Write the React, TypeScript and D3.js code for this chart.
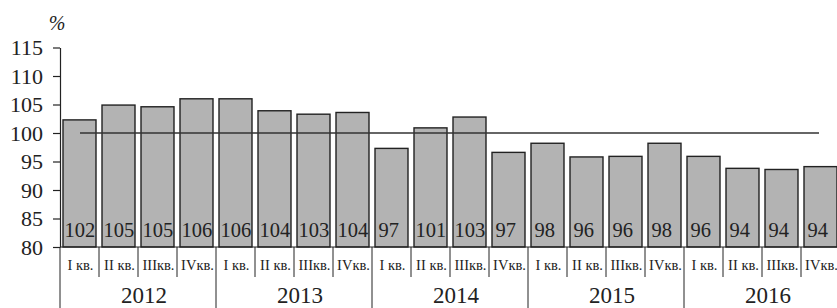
import { useEffect, useRef } from 'react';
import * as d3 from 'd3';

const years = ['2012', '2013', '2014', '2015', '2016'];
const quarterNames = ['I кв.', 'II кв.', 'IIIкв.', 'IVкв.'];
const values = [
  102.3, 104.9, 104.6, 106.0, 106.0, 103.9, 103.3, 103.6, 97.3, 100.9,
  102.8, 96.6, 98.2, 95.8, 95.9, 98.2, 95.9, 93.8, 93.6, 94.1,
];
const valueLabels = [
  '102', '105', '105', '106', '106', '104', '103', '104', '97', '101',
  '103', '97', '98', '96', '96', '98', '96', '94', '94', '94',
];
const yTicks = [80, 85, 90, 95, 100, 105, 110, 115];
const baseline = 100;

export default function App() {
  const svgRef = useRef<SVGSVGElement>(null);

  useEffect(() => {
    if (!svgRef.current) return;
    const svg = d3.select(svgRef.current);
    svg.selectAll('*').remove();

    const font = "'Liberation Serif', 'Times New Roman', serif";
    const ink = '#222';
    const left = 60;
    const step = 39;
    const n = values.length;

    const x = d3.scaleBand<number>()
      .domain(d3.range(n))
      .range([left, left + step * n])
      .paddingInner(6 / 39)
      .paddingOuter(3 / 39);

    const y = d3.scaleLinear()
      .domain([80, 115])
      .range([247, 47.5]);

    const root = svg.append('g').style('font-family', font).attr('fill', ink);

    // bars
    root.append('g')
      .selectAll('rect')
      .data(values)
      .join('rect')
      .attr('x', (_, i) => x(i)!)
      .attr('y', d => y(d))
      .attr('width', x.bandwidth())
      .attr('height', d => y(80) - y(d))
      .attr('fill', '#b3b3b3')
      .attr('stroke', '#222')
      .attr('stroke-width', 1.4);

    // 100% line
    root.append('line')
      .attr('x1', 80)
      .attr('x2', 819)
      .attr('y1', y(baseline))
      .attr('y2', y(baseline))
      .attr('stroke', '#333')
      .attr('stroke-width', 1.4);

    // value labels
    root.append('g')
      .selectAll('text')
      .data(valueLabels)
      .join('text')
      .attr('x', (d, i) => x(i)! + (d.length === 3 ? 1.5 : 3.5))
      .attr('y', 237)
      .style('font-family', font)
      .attr('font-size', 20.5)
      .text(d => d);

    // y axis
    const yAxis = d3.axisLeft(y)
      .tickValues(yTicks)
      .tickSize(7)
      .tickPadding(10)
      .tickSizeOuter(0);

    root.append('g')
      .attr('transform', `translate(${left},0)`)
      .call(yAxis)
      .call(g => g.selectAll('path, line').attr('stroke', ink).attr('stroke-width', 1.2))
      .call(g => g.selectAll('text')
        .style('font-family', font)
        .attr('font-size', 22)
        .attr('fill', ink));

    root.append('text')
      .attr('x', 57)
      .attr('y', 30)
      .attr('text-anchor', 'middle')
      .style('font-family', font)
      .attr('font-size', 20)
      .attr('font-style', 'italic')
      .text('%');

    // x axis line
    root.append('line')
      .attr('x1', left)
      .attr('x2', left + step * n)
      .attr('y1', y(80))
      .attr('y2', y(80))
      .attr('stroke', ink)
      .attr('stroke-width', 1.2);

    // quarter separators and labels
    root.append('g')
      .selectAll('line')
      .data(d3.range(n + 1))
      .join('line')
      .attr('x1', i => left + i * step)
      .attr('x2', i => left + i * step)
      .attr('y1', y(80))
      .attr('y2', i => (i % 4 === 0 ? 308 : 277))
      .attr('stroke', ink)
      .attr('stroke-width', 1);

    root.append('g')
      .selectAll('text')
      .data(d3.range(n))
      .join('text')
      .attr('x', i => left + i * step + step / 2 + 1)
      .attr('y', 270)
      .attr('text-anchor', 'middle')
      .style('font-family', font)
      .attr('font-size', 14.5)
      .text(i => quarterNames[i % 4]);

    // year labels
    root.append('g')
      .selectAll('text')
      .data(years)
      .join('text')
      .attr('x', (_, i) => left + i * step * 4 + step * 2 + 6)
      .attr('y', 303)
      .attr('text-anchor', 'middle')
      .style('font-family', font)
      .attr('font-size', 23)
      .text(d => d);
  }, []);

  return (
    <div style={{ position: 'absolute', left: 0, top: 0 }}>
      <svg ref={svgRef} width={837} height={308} style={{ display: 'block' }} />
    </div>
  );
}
